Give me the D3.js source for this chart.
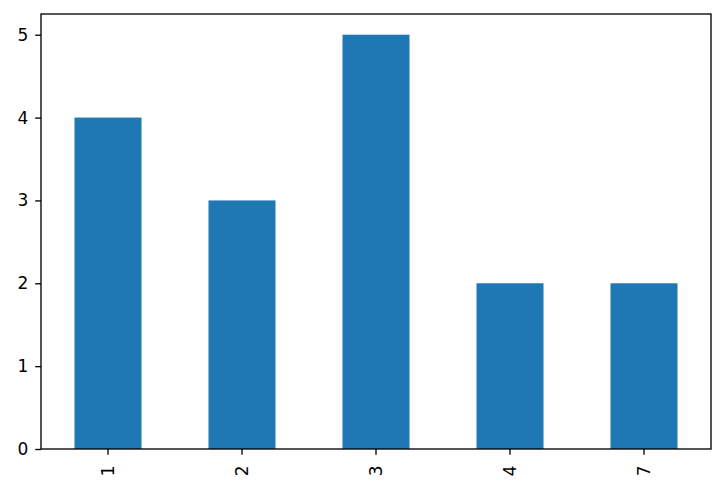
<!DOCTYPE html>
<html><head><meta charset="utf-8">
<script src="https://cdn.jsdelivr.net/npm/d3@7"></script>
<style>body{margin:0;background:#fff}svg{display:block}text{font-family:"DejaVu Sans";}</style>
</head><body>
<svg id="c" width="725" height="490"></svg>
<script>
const categories = ["1","2","3","4","7"];
const values = [4,3,5,2,2];
const yTicks = [0,1,2,3,4,5];

const W=725,H=490;
const m={l:41,r:14,t:14,b:41};
const svg=d3.select("#c");
const x=d3.scaleBand().domain(categories).range([m.l,W-m.r]).paddingInner(0.5).paddingOuter(0.25);
const y=d3.scaleLinear().domain([0,5.25]).range([H-m.b,m.t]);
const fs=17, tl=5.8, lw=1.33;

svg.append("g").selectAll("rect").data(values).join("rect")
  .attr("x",(d,i)=>x(categories[i])).attr("width",x.bandwidth())
  .attr("y",d=>y(d)).attr("height",d=>y(0)-y(d)).attr("fill","#1f77b4");

const gx=svg.append("g").attr("transform",`translate(0,${H-m.b})`)
  .call(d3.axisBottom(x).tickSize(tl).tickPadding(5.8));
gx.select(".domain").remove();
gx.selectAll("line").attr("stroke","#000").attr("stroke-width",lw);
gx.selectAll("text").attr("font-size",fs).attr("fill","#000")
  .attr("transform","rotate(-90)").attr("text-anchor","end")
  .attr("x",-16.5).attr("y",0).attr("dy","0.33em");

const gy=svg.append("g").attr("transform",`translate(${m.l},0)`)
  .call(d3.axisLeft(y).tickValues(yTicks).tickFormat(d3.format("d")).tickSize(tl).tickPadding(7));
gy.select(".domain").remove();
gy.selectAll("line").attr("stroke","#000").attr("stroke-width",lw);
gy.selectAll("text").attr("font-size",fs).attr("fill","#000");

svg.append("rect").attr("x",m.l).attr("y",m.t).attr("width",W-m.l-m.r).attr("height",H-m.t-m.b)
  .attr("fill","none").attr("stroke","#000").attr("stroke-width",lw);
</script>
</body></html>
